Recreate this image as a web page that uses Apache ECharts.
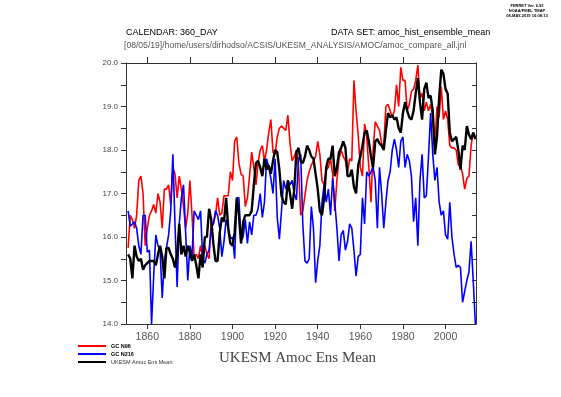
<!DOCTYPE html>
<html><head><meta charset="utf-8">
<script src="https://cdn.jsdelivr.net/npm/echarts@6/dist/echarts.min.js"></script>
<style>html,body{margin:0;padding:0;background:#fff}#c{width:561px;height:397px}</style>
</head><body><div id="c"></div>
<script>
var firstYear = 1851;
var xTicks = [1860, 1880, 1900, 1920, 1940, 1960, 1980, 2000];
var redN96 = [15.75,16.5,16.4,16.2,16.5,17.3,17.4,17.0,15.8,16.2,16.5,16.6,16.75,16.55,17.0,16.8,16.2,17.1,17.1,17.2,16.75,17.6,17.45,16.9,17.4,17.1,16.7,16.2,16.55,17.3,16.5,15.5,15.6,15.5,15.8,15.55,15.8,15.6,15.5,16.35,16.3,16.5,16.9,16.5,16.55,16.95,16.95,16.95,17.5,17.3,18.2,18.3,17.7,17.45,17.4,16.7,16.9,17.4,17.95,17.6,17.2,17.7,18.0,18.1,17.75,18.0,18.4,18.7,17.95,17.9,18.3,18.5,18.55,18.5,18.45,18.8,18.15,17.75,17.85,18.0,17.6,16.5,16.6,16.95,17.3,17.5,17.65,17.75,17.85,18.2,17.9,17.3,17.2,17.55,17.6,17.8,17.45,16.6,17.3,17.8,18.0,17.85,17.75,17.5,17.8,17.75,19.6,18.9,18.35,17.6,17.4,18.6,18.3,17.6,16.8,18.0,18.65,18.55,18.45,18.15,18.1,19.0,19.05,18.9,18.75,18.9,19.5,19.0,19.9,19.6,19.6,18.9,19.05,19.35,19.4,19.6,19.95,19.2,19.3,18.9,19.1,18.9,19.05,18.75,18.1,19.0,18.75,19.45,18.7,18.9,18.7,18.1,18.05,18.05,18.0,17.65,17.65,17.45,17.1,17.35,17.4,18.1,18.4,18.3];
var blueN216 = [16.6,16.25,16.3,16.35,16.2,15.8,15.6,16.5,16.5,15.65,15.7,14.0,15.1,16.05,15.8,15.7,14.6,15.45,15.75,16.05,16.6,17.9,16.3,14.85,16.3,16.9,17.2,16.1,15.0,15.8,15.55,16.6,16.5,16.4,16.6,15.5,15.4,15.6,15.7,16.2,16.3,16.6,16.5,16.2,15.55,15.9,16.4,16.2,15.95,16.0,15.5,16.9,16.9,15.9,16.0,16.4,15.85,16.35,16.05,16.5,16.5,16.65,17.0,16.45,16.8,17.8,17.6,17.35,17.0,17.8,16.45,15.95,16.6,17.3,17.1,17.3,17.2,17.3,17.0,16.85,17.8,17.9,16.3,15.45,15.4,15.5,16.7,16.2,14.95,15.45,15.8,16.8,17.2,16.8,17.1,16.5,17.35,16.8,16.2,15.45,16.05,16.15,15.7,15.9,16.3,16.2,15.7,15.1,15.55,15.6,16.9,16.3,17.5,17.4,17.5,17.6,17.3,16.2,17.6,17.0,16.2,16.8,17.3,17.5,18.0,18.25,18.0,17.6,18.2,18.3,17.6,17.9,17.75,17.4,16.35,16.9,15.8,17.3,17.9,16.9,16.95,17.85,18.85,17.9,17.3,17.6,16.8,16.5,16.6,16.05,15.95,16.8,16.0,15.6,15.3,15.35,15.3,14.5,14.75,15.0,15.2,15.9,15.0,14.0];
var ensMean = [15.6,15.5,15.05,15.8,15.55,15.45,15.5,15.25,15.35,15.4,15.45,15.45,15.45,15.35,15.6,15.8,15.55,15.05,15.75,15.75,15.6,15.5,15.3,15.6,16.3,15.6,15.8,15.55,15.8,15.65,15.45,15.6,15.35,15.05,15.6,15.3,16.0,16.0,16.65,16.4,15.85,15.45,15.45,16.1,16.45,16.35,16.9,16.2,15.85,15.8,16.1,16.9,16.5,15.85,16.35,16.5,16.5,16.5,16.6,17.2,17.7,17.75,17.6,17.4,17.8,17.55,17.65,17.45,17.75,18.0,17.95,17.55,16.95,16.8,16.75,17.3,17.0,16.65,17.1,17.95,18.05,17.75,17.7,17.85,18.1,18.0,17.85,17.8,17.45,17.1,16.6,16.5,16.9,17.6,17.8,17.8,18.1,17.4,17.6,17.95,18.05,18.2,18.05,17.4,17.4,17.55,17.15,17.0,17.65,17.85,18.1,18.4,18.45,18.2,17.85,17.6,18.2,18.25,18.15,18.1,18.0,18.45,18.85,18.75,18.8,18.7,18.75,18.5,18.4,18.85,19.1,18.9,18.75,18.7,18.9,19.3,19.65,19.1,18.7,19.4,19.55,19.2,19.25,18.9,17.9,18.3,19.2,19.85,19.75,19.4,19.3,18.4,18.2,18.25,18.3,18.0,17.55,18.1,18.0,18.55,18.35,18.25,18.4,18.25];
var seriesNames = ['GC N96', 'GC N216', 'UKESM Amoc Ens Mean'];

function pairs(arr){ var out=[]; for(var i=0;i<arr.length;i++){ out.push([firstYear+i, arr[i]]); } return out; }

var chart = echarts.init(document.getElementById('c'), null, {renderer:'canvas'});
var axisCol = '#333';
var lblFont = 'Liberation Sans, DejaVu Sans, sans-serif';
chart.setOption({
  animation:false,
  backgroundColor:'#fff',
  grid:{left:126, right:85, top:63, bottom:73, containLabel:false},
  xAxis:[
    {type:'value', position:'bottom', min:1850, max:2014.3,
     axisLine:{show:true,lineStyle:{color:axisCol,width:1}},
     axisTick:{show:true, inside:false, length:5, customValues:xTicks, lineStyle:{color:axisCol}},
     axisLabel:{show:true, customValues:xTicks, margin:8, color:'#555', fontSize:10.5, fontFamily:lblFont, formatter:function(v){return String(v);}},
     splitLine:{show:false}},
    {type:'value', position:'top', min:1850, max:2014.3,
     axisLine:{show:true,lineStyle:{color:axisCol,width:1}},
     axisTick:{show:true, inside:false, length:6, customValues:xTicks, lineStyle:{color:axisCol}},
     axisLabel:{show:false},
     splitLine:{show:false}}
  ],
  yAxis:[
    {type:'value', position:'left', min:14, max:20, interval:1,
     axisLine:{show:true,lineStyle:{color:axisCol,width:1}},
     axisTick:{show:true, inside:false, length:5, lineStyle:{color:axisCol}},
     minorTick:{show:true, splitNumber:2, length:5, lineStyle:{color:axisCol}},
     axisLabel:{show:true, margin:8, color:'#444', fontSize:8, fontFamily:lblFont, formatter:function(v){return v.toFixed(1);}},
     splitLine:{show:false}},
    {type:'value', position:'right', min:14, max:20, interval:1,
     axisLine:{show:true,lineStyle:{color:axisCol,width:1}},
     axisTick:{show:true, inside:true, length:4, lineStyle:{color:axisCol}},
     minorTick:{show:true, splitNumber:2, length:4, lineStyle:{color:axisCol}},
     axisLabel:{show:false},
     splitLine:{show:false}}
  ],
  series:[
    {name:seriesNames[0], type:'line', data:pairs(redN96), showSymbol:false, symbol:'none', lineStyle:{color:'#ff0000', width:1.6}, itemStyle:{color:'#ff0000'}, z:2},
    {name:seriesNames[1], type:'line', data:pairs(blueN216), showSymbol:false, symbol:'none', lineStyle:{color:'#0000ff', width:1.6}, itemStyle:{color:'#0000ff'}, z:3},
    {name:seriesNames[2], type:'line', data:pairs(ensMean), showSymbol:false, symbol:'none', lineStyle:{color:'#000000', width:2.4}, itemStyle:{color:'#000'}, z:4}
  ],
  graphic:[
    {type:'text', x:527, y:3, style:{text:'FERRET Ver. 6.93\nNOAA/PMEL TMAP\n08-MAY-2019 16:08:13', fill:'#000', font:'bold 4px Liberation Sans, sans-serif', align:'center', lineHeight:5}},
    {type:'text', x:126, y:28, style:{text:'CALENDAR: 360_DAY', fill:'#000', font:'9px Liberation Sans, DejaVu Sans, sans-serif'}},
    {type:'text', x:331, y:28, style:{text:'DATA SET: amoc_hist_ensemble_mean', fill:'#000', font:'9px Liberation Sans, DejaVu Sans, sans-serif'}},
    {type:'text', x:124, y:41, style:{text:'[08/05/19]/home/users/dirhodso/ACSIS/UKESM_ANALYSIS/AMOC/amoc_compare_all.jnl', fill:'#555', font:'8.6px Liberation Sans, DejaVu Sans, sans-serif'}},
    {type:'text', x:219, y:351, style:{text:'UKESM Amoc Ens Mean', fill:'#444', font:'15px Liberation Serif, DejaVu Serif, serif'}},
    {type:'line', shape:{x1:78, y1:346, x2:106, y2:346}, style:{stroke:'#ff0000', lineWidth:2}},
    {type:'line', shape:{x1:78, y1:354, x2:106, y2:354}, style:{stroke:'#0000ff', lineWidth:2}},
    {type:'line', shape:{x1:78, y1:362, x2:106, y2:362}, style:{stroke:'#000000', lineWidth:2}},
    {type:'text', x:111, y:343, style:{text:seriesNames[0], fill:'#000', font:'bold 5.5px Liberation Sans, sans-serif'}},
    {type:'text', x:111, y:351, style:{text:seriesNames[1], fill:'#000', font:'bold 5.5px Liberation Sans, sans-serif'}},
    {type:'text', x:111, y:359, style:{text:seriesNames[2], fill:'#333', font:'5.5px Liberation Sans, sans-serif'}}
  ]
});
</script>
</body></html>
